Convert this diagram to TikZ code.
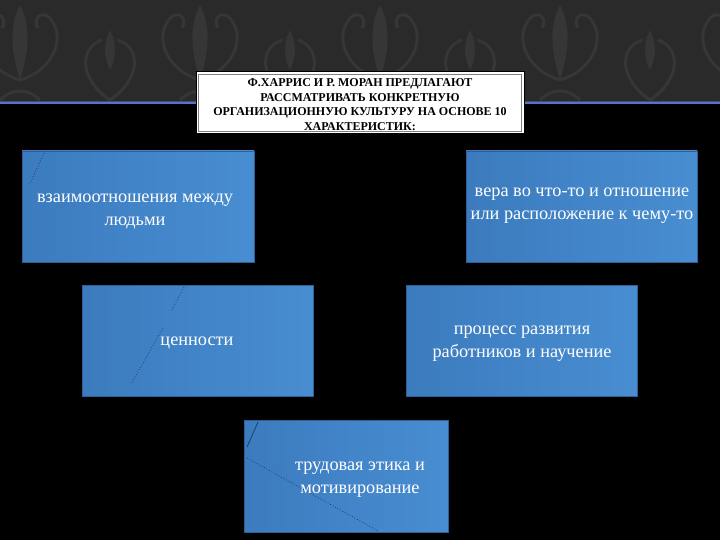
\documentclass[tikz,border=0pt]{standalone}
\usepackage{fontspec}
\newfontfamily\slidefont{Liberation Serif}
\definecolor{bandgray}{HTML}{2A2A2A}
\definecolor{damask}{HTML}{363636}
\definecolor{rulerblue}{HTML}{5A6ED8}
\definecolor{rulerteal}{HTML}{2F5A5A}
\definecolor{boxdark}{HTML}{3B7BBE}
\definecolor{boxlight}{HTML}{55A0E4}
\definecolor{boxedge}{HTML}{2D5F98}
\definecolor{dotblue}{HTML}{1E3F6E}
\tikzset{
  cardbox/.style={draw=boxedge, line width=0.6pt, left color=boxdark, middle color=boxlight, right color=boxdark!50!boxlight},
  cardtext/.style={text=white, align=center, inner sep=0.75pt, font=\slidefont\fontsize{18.3}{23}\selectfont},
  titletext/.style={align=center, inner sep=0.75pt, font=\slidefont\bfseries\fontsize{12}{14.5}\selectfont},
  glitch/.style={dotblue, dotted, line width=0.8pt},
}
\begin{document}
\begin{tikzpicture}[x=1pt,y=1pt,yscale=-1,xscale=1]
\useasboundingbox (0,0) rectangle (720,540);

%Shape: Background
\fill[black] (0,0) rectangle (720,540);
\fill[bandgray] (0,0) rectangle (720,102);

%Shape: Damask motifs
\foreach \mx in {20,200,380,560,740} {
  \fill[damask] (\mx,5) .. controls (\mx+12,28) and (\mx+8,55) .. (\mx,80)
                        .. controls (\mx-8,55) and (\mx-12,28) .. (\mx,5);
  \draw[damask, line width=3pt] (\mx,80) .. controls (\mx+30,72) and (\mx+48,40) .. (\mx+30,18)
                                 .. controls (\mx+22,10) and (\mx+12,18) .. (\mx+18,28);
  \draw[damask, line width=3pt] (\mx,80) .. controls (\mx-30,72) and (\mx-48,40) .. (\mx-30,18)
                                 .. controls (\mx-22,10) and (\mx-12,18) .. (\mx-18,28);
  \draw[damask, line width=3pt] (\mx-20,100) .. controls (\mx-8,88) and (\mx+8,88) .. (\mx+20,100);
}
\foreach \mx in {110,290,470,650} {
  \draw[damask, line width=3pt] (\mx,100) .. controls (\mx+30,80) and (\mx+32,48) .. (\mx+8,40);
  \draw[damask, line width=3pt] (\mx,100) .. controls (\mx-30,80) and (\mx-32,48) .. (\mx-8,40);
  \fill[damask] (\mx,30) .. controls (\mx+8,45) and (\mx+5,60) .. (\mx,70)
                         .. controls (\mx-5,60) and (\mx-8,45) .. (\mx,30);
}

%Shape: Blue rule
\draw[rulerteal, line width=1pt] (0,101.5) -- (720,101.5);
\draw[rulerblue, line width=2pt] (0,103.5) -- (720,103.5);

%Shape: Title box
\filldraw[fill=white, draw=black, line width=1pt] (196,72) rectangle (524,134);
\draw[gray, line width=0.5pt] (198.5,74.5) rectangle (521.5,131.5);

% Text Node
\node[titletext] (title) at (360,104.5) {Ф.ХАРРИС И Р. МОРАН ПРЕДЛАГАЮТ\\РАССМАТРИВАТЬ КОНКРЕТНУЮ\\ОРГАНИЗАЦИОННУЮ КУЛЬТУРУ НА ОСНОВЕ 10\\ХАРАКТЕРИСТИК:};

%Shape: Cards
\shade[cardbox] (22,151) rectangle (254,262);
\shade[cardbox] (466,151) rectangle (697,262);
\shade[cardbox] (82,285) rectangle (313,396);
\shade[cardbox] (406,285) rectangle (637,396);
\shade[cardbox] (244,420) rectangle (448,532);

%Shape: Dotted marks
\draw[glitch] (44,153) -- (29,186);
\draw[glitch] (184,287) -- (172,310);
\draw[glitch] (163,328) -- (131,384);
\draw[dotblue, line width=0.8pt] (258,422) -- (247,447);
\draw[glitch] (247,458) -- (378,531);

% Text Node
\node[cardtext] (relations) at (135,211) {взаимоотношения между\\людьми};
% Text Node
\node[cardtext] (belief) at (582,206) {вера во что-то и отношение\\или расположение к чему-то};
% Text Node
\node[cardtext] (values) at (197,343) {ценности};
% Text Node
\node[cardtext] (growth) at (522,344) {процесс развития\\работников и научение};
% Text Node
\node[cardtext] (ethics) at (360,480) {трудовая этика и\\мотивирование};

\end{tikzpicture}
\end{document}
